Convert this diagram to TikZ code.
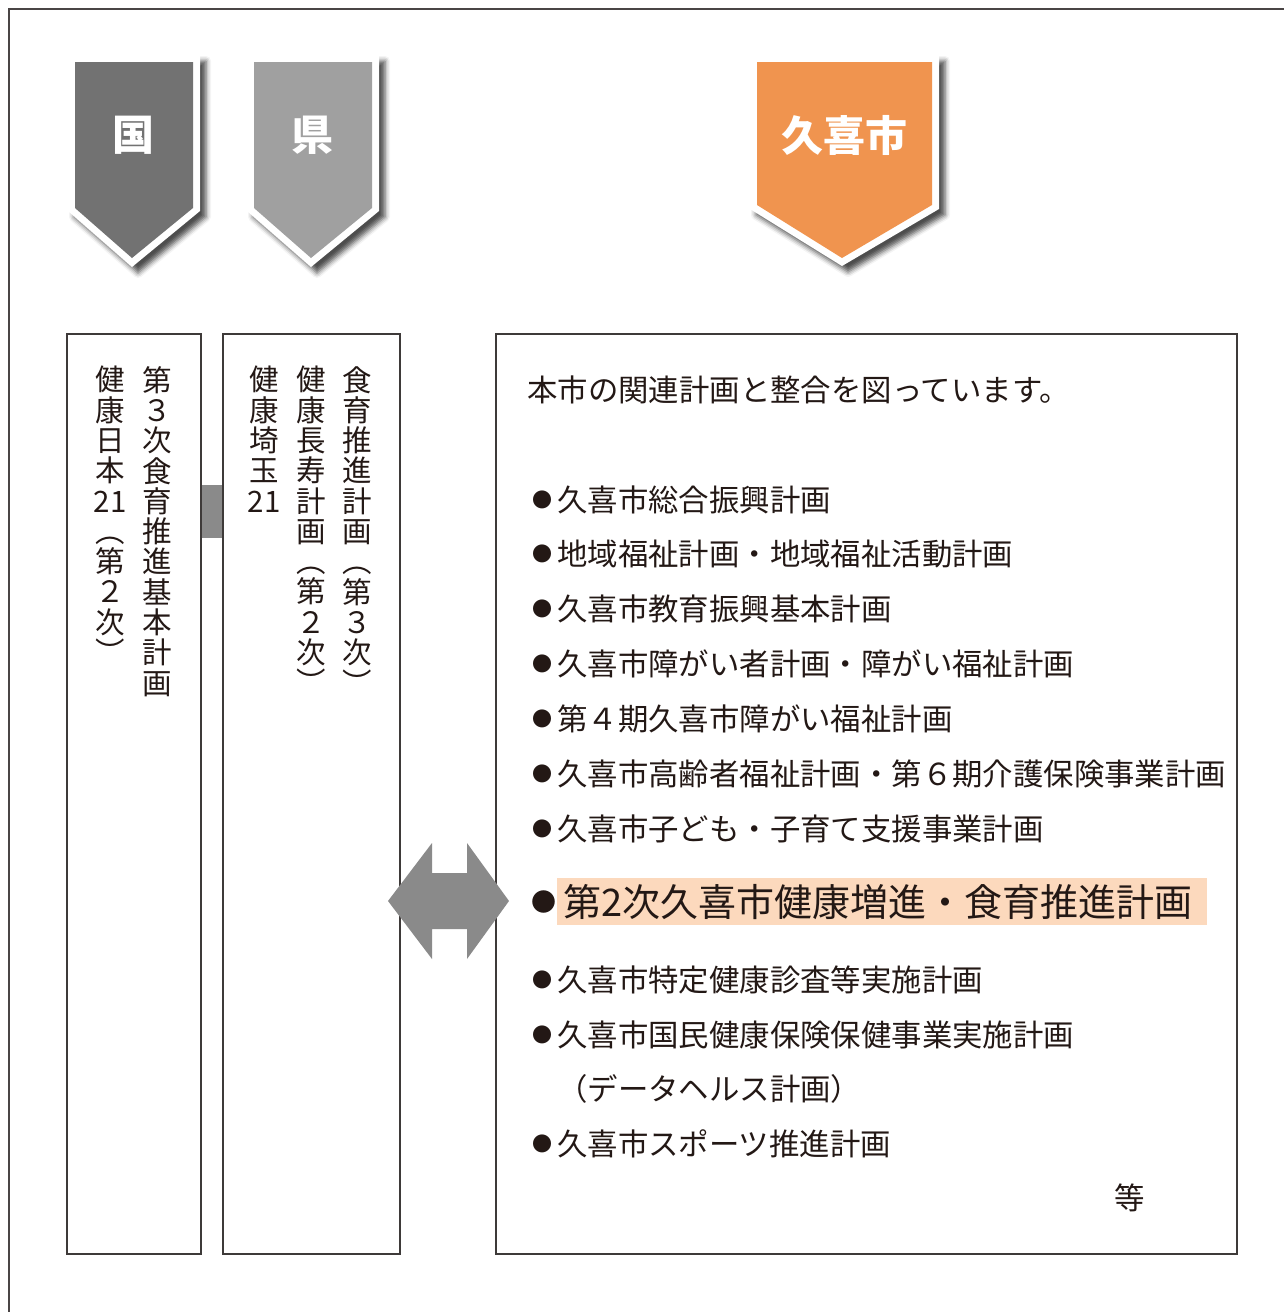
\documentclass[tikz,border=0pt]{standalone}
\usepackage{fontspec}
\setmainfont{Noto Sans CJK JP}
\usetikzlibrary{shadows.blur}
\definecolor{ink}{HTML}{231815}
\definecolor{framecol}{HTML}{4A4545}
\definecolor{boxline}{HTML}{3E3A39}
\definecolor{kunicol}{HTML}{727272}
\definecolor{kencol}{HTML}{A0A0A0}
\definecolor{citycol}{HTML}{F0944F}
\definecolor{linkcol}{HTML}{8A8A8A}
\definecolor{hilite}{HTML}{FCD9BD}
\newcommand\mybul{\makebox[30pt]{\raisebox{4pt}{\fontsize{20}{20}\selectfont ●}}}
\tikzset{
  chevout/.style={fill=white, blur shadow={shadow xshift=6pt, shadow yshift=-6pt, shadow blur radius=5pt, shadow opacity=70}},
  chevlabel/.style={text=white, inner sep=0, font=\bfseries\fontsize{42}{42}\selectfont},
  planbox/.style={draw=boxline, line width=1.5pt, fill=none, inner sep=0},
  vtext/.style={anchor=north, align=center, inner sep=0, text=ink, font=\fontsize{29.5}{30.3}\selectfont},
  item/.style={anchor=west, inner sep=0, text=ink, font=\fontsize{30.4}{30.4}\selectfont},
  bigitem/.style={anchor=west, inner sep=0, text=ink, font=\fontsize{38}{38}\selectfont}
}
\begin{document}
\begin{tikzpicture}[x=1pt,y=-1pt]
\useasboundingbox (0,0) rectangle (1284,1312);
% outer frame (cropped)
\draw[framecol, line width=2pt] (9,1312) -- (9,9) -- (1284,9);

% chevrons
\path[chevout] (68,55) -- (200,55) -- (200,211) -- (132,267) -- (68,211) -- cycle;
\fill[kunicol] (75,62) -- (193,62) -- (193,208) -- (132,258) -- (75,208) -- cycle;
\node[chevlabel] (kuni) at (133,135) {国};

\path[chevout] (247,55) -- (379,55) -- (379,211) -- (311,267) -- (247,211) -- cycle;
\fill[kencol] (254,62) -- (372,62) -- (372,208) -- (311,258) -- (254,208) -- cycle;
\node[chevlabel] (ken) at (312,135) {県};

\path[chevout] (750,55) -- (939,55) -- (939,209) -- (842,266) -- (750,209) -- cycle;
\fill[citycol] (757,62) -- (932,62) -- (932,205) -- (842,258) -- (757,205) -- cycle;
\node[chevlabel] (city) at (844,135) {久喜市};

% boxes
\node[planbox, minimum width=134pt, minimum height=920pt] (b1) at (134,794) {};
\node[planbox, minimum width=177pt, minimum height=920pt] (b2) at (311.5,794) {};
\node[planbox, minimum width=741pt, minimum height=920pt] (b3) at (866.5,794) {};

% link between national and prefectural boxes
\coordinate (lt) at (0,485);
\coordinate (lb) at (0,538);
\fill[linkcol] (b1.east |- lt) rectangle (b2.west |- lb);

% double arrow
\fill[linkcol] (388,901) -- (432,843) -- (432,873) -- (467,873) -- (467,843) -- (509,901)
  -- (467,959) -- (467,929) -- (432,929) -- (432,959) -- cycle;

% vertical texts
\node[vtext] (c11) at (157,366) {第\\３\\次\\食\\育\\推\\進\\基\\本\\計\\画};
\node[vtext] (c12) at (110,366) {健\\康\\日\\本\\21\\︵\\第\\２\\次\\︶};
\node[vtext] (c21) at (357,366) {食\\育\\推\\進\\計\\画\\︵\\第\\３\\次\\︶};
\node[vtext] (c22) at (311,366) {健\\康\\長\\寿\\計\\画\\︵\\第\\２\\次\\︶};
\node[vtext] (c23) at (264,366) {健\\康\\埼\\玉\\21};

% city plans
\node[item] (t0) at (527,390) {本市の関連計画と整合を図っています。};
\node[item] (t1) at (527,500) {\mybul 久喜市総合振興計画};
\node[item] (t2) at (527,554) {\mybul 地域福祉計画・地域福祉活動計画};
\node[item] (t3) at (527,609) {\mybul 久喜市教育振興基本計画};
\node[item] (t4) at (527,664) {\mybul 久喜市障がい者計画・障がい福祉計画};
\node[item] (t5) at (527,719) {\mybul 第４期久喜市障がい福祉計画};
\node[item] (t6) at (527,774) {\mybul 久喜市高齢者福祉計画・第６期介護保険事業計画};
\node[item] (t7) at (527,829) {\mybul 久喜市子ども・子育て支援事業計画};
\fill[hilite] (557,878) rectangle (1207,925);
\node[anchor=center, inner sep=0, text=ink, font=\fontsize{25}{25}\selectfont] (hb) at (544,902) {●};
\node[bigitem] (hl) at (563,902) {第2次久喜市健康増進・食育推進計画};
\node[item] (t8) at (527,980) {\mybul 久喜市特定健康診査等実施計画};
\node[item] (t9) at (527,1035) {\mybul 久喜市国民健康保険保健事業実施計画};
\node[item] (t10) at (557,1089) {（データヘルス計画）};
\node[item] (t11) at (527,1144) {\mybul 久喜市スポーツ推進計画};
\node[item, anchor=center] (etc) at (1130,1198) {等};
\end{tikzpicture}
\end{document}
